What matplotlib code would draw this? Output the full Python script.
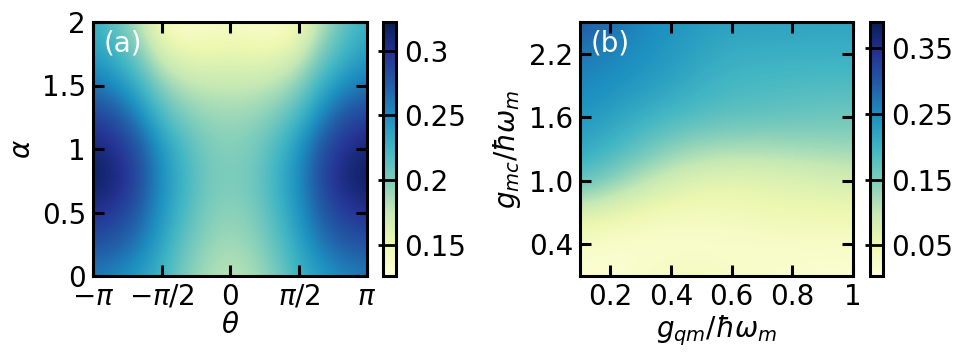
import numpy as np
import matplotlib
matplotlib.use("Agg")
import matplotlib.pyplot as plt

# panel (a): rows alpha = 0 .. 2 (step 0.25), cols theta = -pi .. pi (step pi/6)
alpha_vals = [0, 0.25, 0.5, 0.75, 1.0, 1.25, 1.5, 1.75, 2.0]
theta_vals = [-np.pi + k * np.pi / 6 for k in range(13)]
conc_a = [
    [0.258, 0.252, 0.240, 0.225, 0.200, 0.185, 0.178, 0.185, 0.200, 0.225, 0.240, 0.252, 0.258],
    [0.280, 0.275, 0.260, 0.235, 0.210, 0.193, 0.187, 0.193, 0.210, 0.235, 0.260, 0.275, 0.280],
    [0.300, 0.292, 0.275, 0.245, 0.220, 0.200, 0.195, 0.200, 0.220, 0.245, 0.275, 0.292, 0.300],
    [0.320, 0.310, 0.285, 0.250, 0.225, 0.205, 0.200, 0.205, 0.225, 0.250, 0.285, 0.310, 0.320],
    [0.312, 0.300, 0.280, 0.245, 0.220, 0.202, 0.198, 0.202, 0.220, 0.245, 0.280, 0.300, 0.312],
    [0.290, 0.280, 0.255, 0.222, 0.202, 0.192, 0.190, 0.192, 0.202, 0.222, 0.255, 0.280, 0.290],
    [0.262, 0.250, 0.228, 0.196, 0.180, 0.176, 0.175, 0.176, 0.180, 0.196, 0.228, 0.250, 0.262],
    [0.240, 0.225, 0.200, 0.166, 0.155, 0.152, 0.155, 0.152, 0.155, 0.166, 0.200, 0.225, 0.240],
    [0.228, 0.210, 0.180, 0.142, 0.130, 0.134, 0.138, 0.134, 0.130, 0.142, 0.180, 0.210, 0.228],
]

# panel (b): rows g_mc = 0.1 .. 2.5 (step 0.3), cols g_qm = 0.1 .. 1.0 (step 0.15)
gmc_vals = [0.1, 0.4, 0.7, 1.0, 1.3, 1.6, 1.9, 2.2, 2.5]
gqm_vals = [0.1, 0.25, 0.4, 0.55, 0.7, 0.85, 1.0]
conc_b = [
    [0.010, 0.015, 0.040, 0.030, 0.020, 0.015, 0.010],
    [0.025, 0.015, 0.015, 0.020, 0.020, 0.025, 0.025],
    [0.080, 0.055, 0.040, 0.035, 0.050, 0.050, 0.050],
    [0.180, 0.125, 0.080, 0.065, 0.065, 0.075, 0.085],
    [0.220, 0.185, 0.140, 0.120, 0.120, 0.125, 0.130],
    [0.240, 0.215, 0.190, 0.175, 0.170, 0.165, 0.160],
    [0.255, 0.240, 0.220, 0.195, 0.190, 0.185, 0.185],
    [0.270, 0.250, 0.235, 0.210, 0.205, 0.205, 0.205],
    [0.305, 0.265, 0.240, 0.225, 0.225, 0.220, 0.220],
]

plt.rcParams['font.size'] = 20
plt.rcParams['mathtext.fontset'] = 'dejavusans'

fig = plt.figure(figsize=(9.59, 3.6), dpi=100)
ax1 = fig.add_axes([0.097, 0.2333, 0.2857, 0.7056])
cax1 = fig.add_axes([0.3994, 0.2333, 0.0136, 0.7056])
ax2 = fig.add_axes([0.6048, 0.2333, 0.2847, 0.7056])
cax2 = fig.add_axes([0.9072, 0.2333, 0.0136, 0.7056])


def half_step_extent(xs, ys):
    dx = (xs[1] - xs[0]) / 2
    dy = (ys[1] - ys[0]) / 2
    return [xs[0] - dx, xs[-1] + dx, ys[0] - dy, ys[-1] + dy]


im1 = ax1.imshow(np.array(conc_a), origin='lower', aspect='auto', cmap='YlGnBu',
                 extent=half_step_extent(theta_vals, alpha_vals),
                 interpolation='bicubic', vmin=0.126, vmax=0.322)
ax1.set_xlim(-np.pi, np.pi)
ax1.set_ylim(0, 2)
ax1.set_xticks([-np.pi, -np.pi / 2, 0, np.pi / 2, np.pi])
ax1.set_xticklabels([r'$-\pi$', r'$-\pi/2$', '0', r'$\pi/2$', r'$\pi$'])
ax1.set_yticks([0, 0.5, 1, 1.5, 2])
ax1.set_yticklabels(['0', '0.5', '1', '1.5', '2'])
ax1.set_xlabel(r'$\theta$', labelpad=0)
ax1.set_ylabel(r'$\alpha$', labelpad=4)
ax1.text(0.04, 0.97, '(a)', color='white', transform=ax1.transAxes, va='top', ha='left')

im2 = ax2.imshow(np.array(conc_b), origin='lower', aspect='auto', cmap='YlGnBu',
                 extent=half_step_extent(gqm_vals, gmc_vals),
                 interpolation='bicubic', vmin=0.003, vmax=0.39)
ax2.set_xlim(0.1, 1.0)
ax2.set_ylim(0.1, 2.5)
ax2.set_xticks([0.2, 0.4, 0.6, 0.8, 1.0])
ax2.set_xticklabels(['0.2', '0.4', '0.6', '0.8', '1'])
ax2.set_yticks([0.4, 1.0, 1.6, 2.2])
ax2.set_yticklabels(['0.4', '1.0', '1.6', '2.2'])
ax2.set_xlabel(r'$g_{qm}/\hbar\omega_m$', labelpad=2)
ax2.set_ylabel(r'$g_{mc}/\hbar\omega_m$', labelpad=4)
ax2.text(0.04, 0.97, '(b)', color='white', transform=ax2.transAxes, va='top', ha='left')

for ax in (ax1, ax2):
    ax.tick_params(direction='in', top=True, right=True, length=8, width=2.2, pad=5)
    for sp in ax.spines.values():
        sp.set_linewidth(2.2)

cb1 = fig.colorbar(im1, cax=cax1, ticks=[0.15, 0.2, 0.25, 0.3])
cb1.ax.set_yticklabels(['0.15', '0.2', '0.25', '0.3'])
cb2 = fig.colorbar(im2, cax=cax2, ticks=[0.05, 0.15, 0.25, 0.35])
cb2.ax.set_yticklabels(['0.05', '0.15', '0.25', '0.35'])
for cb in (cb1, cb2):
    cb.ax.tick_params(direction='in', length=13, width=2, pad=6)
    cb.outline.set_linewidth(2.2)

fig.savefig('out.png', dpi=100)
